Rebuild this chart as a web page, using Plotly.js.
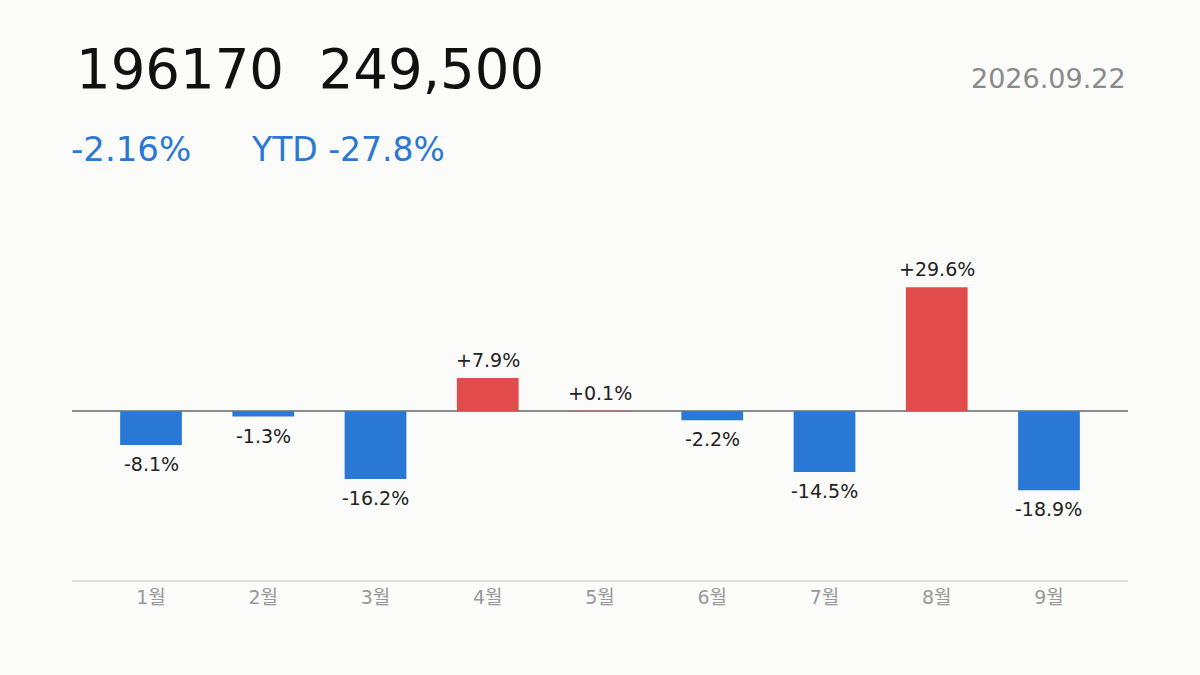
<!DOCTYPE html>
<html>
<head>
<meta charset="utf-8">
<script src="https://cdn.plot.ly/plotly-3.0.1.min.js"></script>
<style>
html,body{margin:0;padding:0;background:#fbfbf9;}
#chart{width:1200px;height:675px;}
</style>
</head>
<body>
<div id="chart"></div>
<script>
const months = ["1월","2월","3월","4월","5월","6월","7월","8월","9월"];
const returns = [-8.1, -1.3, -16.2, 7.9, 0.1, -2.2, -14.5, 29.6, -18.9];
const ticker = "196170";
const price = "249,500";
const dayChange = "-2.16%";
const ytdChange = "YTD -27.8%";
const dateLabel = "2026.09.22";

const UP = "#e24b4b", DOWN = "#2a78d6";
const FONT = "'DejaVu Sans', 'Noto Sans CJK KR', sans-serif";

const labels = returns.map(v => (v > 0 ? "+" : "") + v.toFixed(1) + "%");
const colors = returns.map(v => v >= 0 ? UP : DOWN);

const trace = {
  type: "bar",
  x: months,
  y: returns,
  width: 0.55,
  marker: {color: colors},
  hoverinfo: "skip"
};

const valueLabels = months.map((m, i) => ({
  xref: "x", yref: "y", x: m, y: returns[i],
  text: labels[i], showarrow: false,
  yanchor: returns[i] >= 0 ? "bottom" : "top",
  yshift: returns[i] >= 0 ? 5 : -6,
  font: {family: FONT, size: 19, color: "#222222"}
}));

const layout = {
  width: 1200, height: 675,
  paper_bgcolor: "#fbfbf9",
  plot_bgcolor: "#fbfbf9",
  margin: {l: 72, r: 72, t: 200, b: 95},
  showlegend: false,
  font: {family: FONT},
  xaxis: {
    type: "category",
    range: [-0.704, 8.704],
    showgrid: false,
    showline: true,
    linecolor: "#dddddd",
    linewidth: 1.5,
    ticks: "",
    tickfont: {family: FONT, size: 19, color: "#999999"},
    zeroline: false,
    fixedrange: true
  },
  yaxis: {
    range: [-40.3, 50.4],
    showgrid: false,
    showticklabels: false,
    zeroline: true,
    zerolinecolor: "#8c8c8c",
    zerolinewidth: 2,
    fixedrange: true
  },
  annotations: [
    {xref: "paper", yref: "paper", x: 0.0, y: 1.345, xanchor: "left", yanchor: "middle",
     text: ticker + "&nbsp;&nbsp;" + price, showarrow: false, xshift: 2,
     font: {family: FONT, size: 54.5, color: "#111111"}},
    {xref: "paper", yref: "paper", x: 1.0, y: 1.321, xanchor: "right", yanchor: "middle",
     text: dateLabel, showarrow: false,
     font: {family: FONT, size: 27, color: "#8a8a8a"}},
    {xref: "paper", yref: "paper", x: 0.0, y: 1.134, xanchor: "left", yanchor: "middle",
     text: dayChange, showarrow: false, xshift: -3,
     font: {family: FONT, size: 34, color: "#2a78d6"}},
    {xref: "paper", yref: "paper", x: 0.168, y: 1.134, xanchor: "left", yanchor: "middle",
     text: ytdChange, showarrow: false,
     font: {family: FONT, size: 33, color: "#2a78d6"}}
  ].concat(valueLabels)
};

Plotly.newPlot("chart", [trace], layout, {displayModeBar: false, staticPlot: true});
</script>
</body>
</html>
